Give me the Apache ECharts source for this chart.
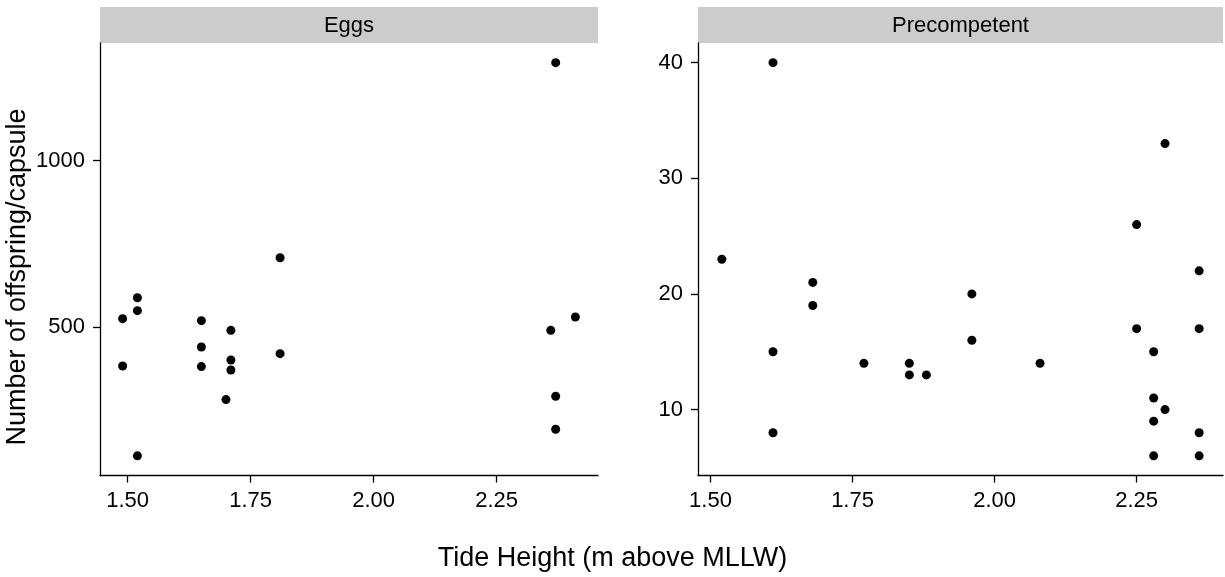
<!DOCTYPE html>
<html>
<head>
<meta charset="utf-8">
<title>Offspring per capsule vs tide height</title>
<script src="https://cdn.jsdelivr.net/npm/echarts@6/dist/echarts.min.js"></script>
<style>
  html, body { margin: 0; padding: 0; background: #fff; }
  #chart { width: 1225px; height: 577px; }
</style>
</head>
<body>
<div id="chart"></div>
<script>
// data
var panelNames = ['Eggs', 'Precompetent'];

var eggsTide  = [1.49, 1.49, 1.52, 1.52, 1.52, 1.65, 1.65, 1.65, 1.70, 1.71, 1.71, 1.71, 1.81, 1.81, 2.36, 2.37, 2.37, 2.37, 2.41];
var eggsCount = [525, 383, 588, 549, 113, 519, 440, 381, 282, 490, 401, 371, 708, 420, 490, 1294, 292, 193, 530];

var precTide  = [1.52, 1.61, 1.61, 1.61, 1.68, 1.68, 1.77, 1.85, 1.85, 1.88, 1.96, 1.96, 2.08, 2.25, 2.25, 2.28, 2.28, 2.28, 2.28, 2.30, 2.30, 2.36, 2.36, 2.36, 2.36];
var precCount = [23, 40, 15, 8, 21, 19, 14, 14, 13, 13, 20, 16, 14, 26, 17, 15, 11, 9, 6, 33, 10, 22, 17, 8, 6];

var xTicks     = [1.5, 1.75, 2.0, 2.25];
var eggsYTicks = [500, 1000];
var precYTicks = [10, 20, 30, 40];

var FONT = '"Liberation Sans", Arial, Helvetica, sans-serif';

// ggplot style 5% padding around the data range
function padded(arr) {
	var lo = Math.min.apply(null, arr), hi = Math.max.apply(null, arr);
	var d = (hi - lo) * 0.05;
	return [lo - d, hi + d];
}

function pairs(xs, ys) {
	return xs.map(function (x, i) { return [x, ys[i]]; });
}

function axisBase(ticks, fmt) {
	return {
		type: 'value',
		scale: true,
		axisLine: { show: true, onZero: false, lineStyle: { color: '#000', width: 1.3 } },
		axisTick: { show: true, inside: false, length: 7, customValues: ticks, lineStyle: { color: '#000', width: 1.3 } },
		axisLabel: { customValues: ticks, color: '#000', fontSize: 22, fontFamily: FONT, formatter: fmt },
		splitLine: { show: false }
	};
}

var chart = echarts.init(document.getElementById('chart'), null, { renderer: 'canvas' });

var grids = [
	{ left: 100, top: 43, width: 498, height: 432.5, outerBoundsMode: 'none', containLabel: false },
	{ left: 698, top: 43, width: 525, height: 432.5, outerBoundsMode: 'none', containLabel: false }
];

var xFmt = function (v) { return v.toFixed(2); };
var xAxes = [eggsTide, precTide].map(function (d, i) {
	var r = padded(d);
	var a = axisBase(xTicks, xFmt);
	a.gridIndex = i; a.min = r[0]; a.max = r[1];
	a.axisLabel.margin = 14;
	return a;
});
var yAxes = [[eggsCount, eggsYTicks], [precCount, precYTicks]].map(function (d, i) {
	var r = padded(d[0]);
	var a = axisBase(d[1], function (v) { return String(v); });
	a.gridIndex = i; a.min = r[0]; a.max = r[1];
	a.axisLabel.margin = 15;
	return a;
});

// facet strips + shared y title (centred on the whole figure, like the original)
var decor = [];
grids.forEach(function (g, i) {
	decor.push({
		type: 'rect', left: g.left, top: 7,
		shape: { width: g.width, height: 36 },
		style: { fill: '#cccccc' }, silent: true
	});
	decor.push({
		type: 'text', x: g.left + g.width / 2, y: 26,
		style: { text: panelNames[i], fill: '#000', font: '22px ' + FONT, textAlign: 'center', textVerticalAlign: 'middle' }
	});
});
decor.push({
	type: 'text', x: 18, y: 277, rotation: Math.PI / 2,
	style: { text: 'Number of offspring/capsule', fill: '#000', font: '27px ' + FONT, textAlign: 'center', textVerticalAlign: 'middle' }
});

var option = {
	backgroundColor: '#fff',
	animation: false,
	title: {
		text: 'Tide Height (m above MLLW)',
		left: 'center', bottom: 0,
		textStyle: { color: '#000', fontSize: 27, fontWeight: 'normal', fontFamily: FONT }
	},
	grid: grids,
	xAxis: xAxes,
	yAxis: yAxes,
	graphic: decor,
	series: [
		{ type: 'scatter', xAxisIndex: 0, yAxisIndex: 0, symbolSize: 9, itemStyle: { color: '#000', opacity: 1 }, data: pairs(eggsTide, eggsCount) },
		{ type: 'scatter', xAxisIndex: 1, yAxisIndex: 1, symbolSize: 9, itemStyle: { color: '#000', opacity: 1 }, data: pairs(precTide, precCount) }
	]
};

chart.setOption(option);

window.onresize = function () {
	chart.resize();
};
</script>
</body>
</html>
